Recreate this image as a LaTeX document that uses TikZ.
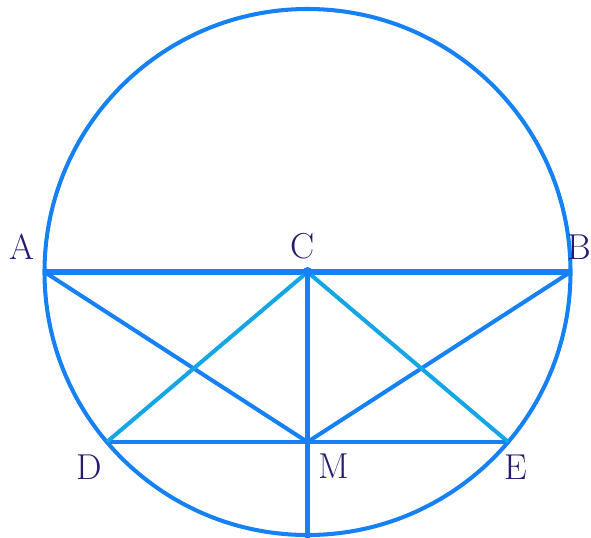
\documentclass[tikz,border=0pt]{standalone}
\usetikzlibrary{calc}
\definecolor{rimblue}{RGB}{22,128,245}
\definecolor{sideblue}{RGB}{20,165,228}
\definecolor{labelnavy}{RGB}{40,25,110}
\tikzset{
  rim/.style={draw=rimblue, line width=2.3pt},
  chord/.style={draw=rimblue, line width=2.3pt},
  diam/.style={draw=rimblue, line width=3.4pt},
  side/.style={draw=sideblue, line width=2.3pt},
  ptlabel/.style={text=labelnavy, font=\fontsize{20.5}{24}\selectfont, inner sep=0pt}
}
\begin{document}
\begin{tikzpicture}[x=0.02cm, y=-0.02cm]
    \useasboundingbox (0,0) rectangle (591,537);
    \clip (0,0) rectangle (591,537);
    % circle and points
    \coordinate (C) at (307.5,272);
    \coordinate (A) at (44.5,272);
    \coordinate (B) at (570.5,272);
    \coordinate (D) at (106.8,442);
    \coordinate (E) at (508.2,442);
    \coordinate (M) at (307.5,442);
    \coordinate (bot) at (307.5,545);
    \draw[rim] (C) circle[radius=263];
    % chords
    \draw[diam] (A) -- (B);
    \draw[chord] (A) -- (M) -- (B);
    \draw[chord] (D) -- (E);
    \draw[chord] (C) -- (bot);
    \draw[side] (D) -- (C) -- (E);
    \fill[rimblue] (C) circle[radius=5];
    % labels
    \node[ptlabel] (lA) at (22,247) {A};
    \node[ptlabel] (lC) at (303,246) {C};
    \node[ptlabel] (lB) at (579,247) {B};
    \node[ptlabel] (lD) at (89,467) {D};
    \node[ptlabel] (lM) at (334,466) {M};
    \node[ptlabel] (lE) at (516,467) {E};
  \end{tikzpicture}
\end{document}
